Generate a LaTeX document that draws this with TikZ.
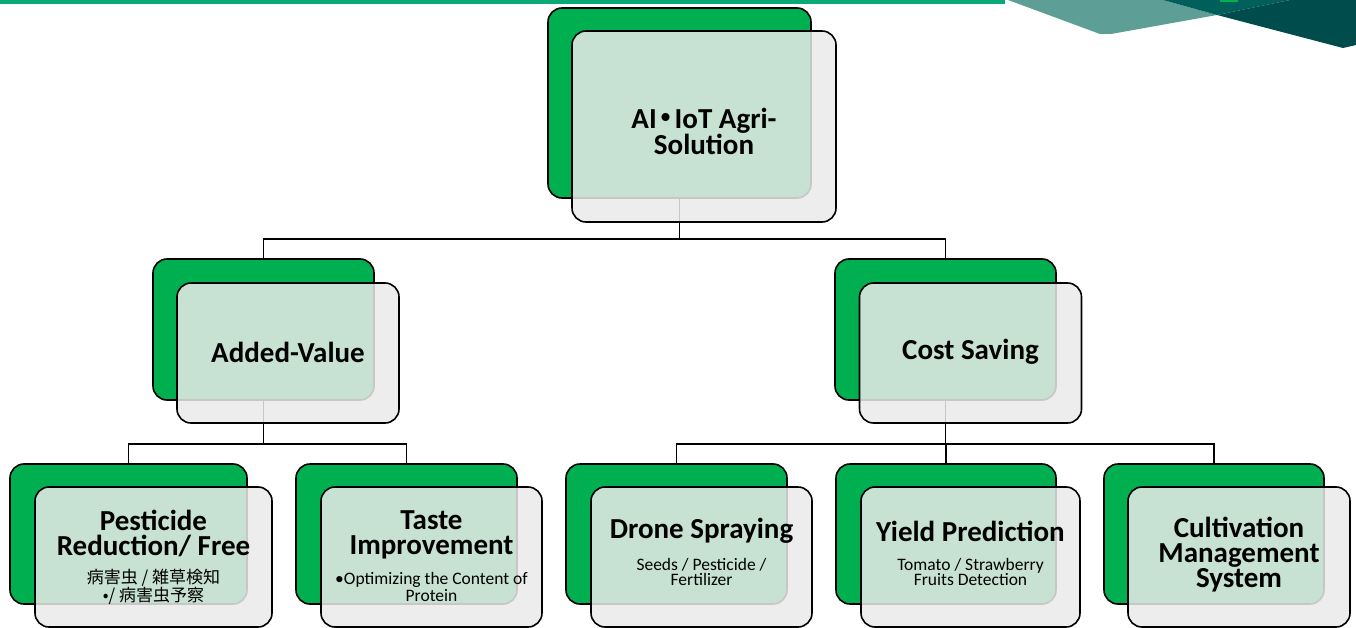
\documentclass[tikz,border=0pt]{standalone}
\usepackage{fontspec}
\setmainfont{Carlito}
\newfontfamily\cjk{Noto Sans CJK JP}
\definecolor{agrigreen}{HTML}{00B050}
\definecolor{bargreen}{HTML}{0AAA78}
\definecolor{teallight}{HTML}{5D9E96}
\definecolor{tealmid}{HTML}{005F5A}
\definecolor{tealdark}{HTML}{004B4B}
\definecolor{panelgray}{HTML}{EAEAEA}
\tikzset{
  backbox/.style={draw=black, line width=1.6pt, fill=agrigreen, rounded corners=14pt,
    inner sep=0pt, outer sep=0pt},
  frontbox/.style={draw=black, line width=1.6pt, fill=panelgray, fill opacity=0.85,
    draw opacity=1, rounded corners=14pt, inner sep=0pt, outer sep=0pt},
  link/.style={draw=black, line width=1.6pt},
  bigtitle/.style={align=center, inner sep=0pt, text opacity=1,
    font=\fontsize{29}{26}\selectfont\bfseries},
  cardtitle/.style={align=center, inner sep=0pt, text opacity=1,
    font=\fontsize{29}{25}\selectfont\bfseries},
  cardnote/.style={align=center, inner sep=0pt, text opacity=1,
    font=\fontsize{17.5}{14.5}\selectfont},
  cjknote/.style={align=center, inner sep=0pt, text opacity=1,
    font=\fontsize{17}{18}\selectfont\cjk},
}
\begin{document}
\begin{tikzpicture}[x=1pt, y=-1pt]
\useasboundingbox (0,0) rectangle (1356,628);

% header band and corner ribbon
\fill[bargreen] (0,0) rectangle (1005,4);
\fill[teallight] (1008,0) -- (1100,34) -- (1111,34) -- (1217,15) -- (1163,0) -- cycle;
\fill[tealmid] (1163,0) -- (1217,15) -- (1290,0) -- cycle;
\fill[tealdark] (1217,15) -- (1343,48) -- (1356,45) -- (1356,0) -- (1290,0) -- cycle;
\fill[agrigreen] (1220,0) rectangle (1238,2);

% bus junctions of the tree
\coordinate (bus1) at (679.5,239);
\coordinate (bus2) at (263.5,444);
\coordinate (bus3) at (945.5,444);

% back cards (green)
\node[backbox, minimum width=263, minimum height=190] (rootback) at (679.5,103) {};
\node[backbox, minimum width=221, minimum height=141] (addback) at (263.5,329.5) {};
\node[backbox, minimum width=221, minimum height=141] (costback) at (945.5,329.5) {};
\node[backbox, minimum width=237, minimum height=140] (pestback) at (128.5,534) {};
\node[backbox, minimum width=221, minimum height=140] (tasteback) at (406.5,534) {};
\node[backbox, minimum width=221, minimum height=140] (droneback) at (676.5,534) {};
\node[backbox, minimum width=220, minimum height=140] (yieldback) at (946,534) {};
\node[backbox, minimum width=220, minimum height=140] (cultback) at (1214,534) {};

% connectors
\draw[link] (rootback.south) -- (bus1) -| (addback.north);
\draw[link] (bus1) -| (costback.north);
\draw[link] (addback.south) -- (bus2) -| (pestback.north);
\draw[link] (bus2) -| (tasteback.north);
\draw[link] (costback.south) -- (bus3) -| (droneback.north);
\draw[link] (bus3) -| (yieldback.north);
\draw[link] (bus3) -| (cultback.north);

% front cards
\node[frontbox, minimum width=264, minimum height=191] (root) at (704,126.5) {};
\node[frontbox, minimum width=222, minimum height=140] (add) at (288,353) {};
\node[frontbox, minimum width=222, minimum height=140] (cost) at (970.5,353) {};
\node[frontbox, minimum width=237, minimum height=140] (pest) at (153.5,557) {};
\node[frontbox, minimum width=221, minimum height=140] (taste) at (431.5,557) {};
\node[frontbox, minimum width=221, minimum height=140] (drone) at (701.5,557) {};
\node[frontbox, minimum width=219, minimum height=140] (yield) at (970.5,557) {};
\node[frontbox, minimum width=222, minimum height=140] (cult) at (1239,557) {};

% labels
\node[bigtitle] (rootT) at (704,131) {AI\makebox[0.62em]{\cjk ・}IoT Agri-\\Solution};
\node[cardtitle] (addT) at (288,352) {Added-Value};
\node[cardtitle] (costT) at (970.5,352) {Cost Saving};
\node[cardtitle] (pestT) at (153.5,533) {Pesticide\\Reduction/ Free};
\node[cjknote] (pestN) at (153.5,587) {病害虫 / 雑草検知\\•/ 病害虫予察};
\node[cardtitle] (tasteT) at (431.5,535) {Taste\\Improvement};
\node[cardnote] (tasteN) at (431.5,587) {•Optimizing the Content of\\Protein};
\node[cardtitle] (droneT) at (701.5,531) {Drone Spraying};
\node[cardnote] (droneN) at (701.5,572) {Seeds / Pesticide /\\Fertilizer};
\node[cardtitle] (yieldT) at (970.5,531) {Yield Prediction};
\node[cardnote] (yieldN) at (970.5,572) {Tomato / Strawberry\\Fruits Detection};
\node[cardtitle] (cultT) at (1239,555) {Cultivation\\Management\\System};
\end{tikzpicture}
\end{document}
